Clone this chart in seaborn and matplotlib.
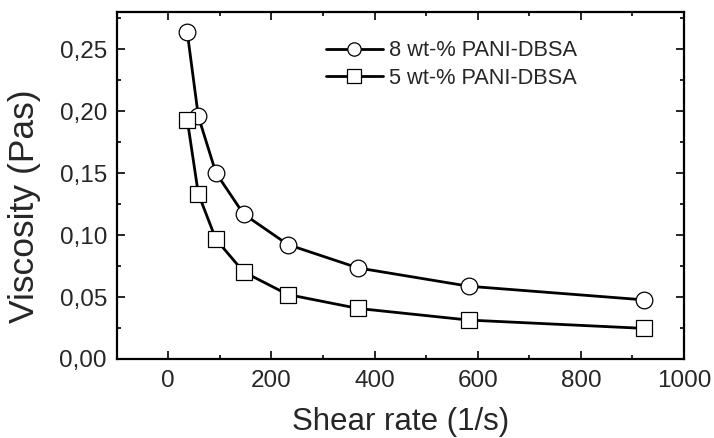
import numpy as np
import matplotlib
matplotlib.use("Agg")
import matplotlib.pyplot as plt
import seaborn as sns
from matplotlib.ticker import MultipleLocator, FuncFormatter

# ==========================
# Data
# ==========================
shear_rate = [36.8, 58.3, 92.4, 146, 232, 368, 583, 923]
visc_8wt = [0.2637, 0.1958, 0.1502, 0.1170, 0.0923, 0.0735, 0.0587, 0.0477]
visc_5wt = [0.1931, 0.1333, 0.0966, 0.0703, 0.0520, 0.0408, 0.0314, 0.0247]
labels = ["8 wt-% PANI-DBSA", "5 wt-% PANI-DBSA"]

sns.set_style("ticks")
plt.rcParams["font.family"] = ["Liberation Sans", "DejaVu Sans"]

fig = plt.figure(figsize=(7.14, 4.38), dpi=100)
ax = fig.add_axes([116.7 / 714, 1 - 359 / 438, (684 - 116.7) / 714, (359 - 12) / 438])

style = dict(color="black", linewidth=2.0, markersize=12,
             markerfacecolor="white", markeredgecolor="black", markeredgewidth=0.9)
sns.lineplot(x=shear_rate, y=visc_8wt, marker="o", label=labels[0], ax=ax, **style)
sns.lineplot(x=shear_rate, y=visc_5wt, marker="s", label=labels[1], ax=ax, **style)

ax.set_xlim(-100, 1000)
ax.set_ylim(0, 0.28)
ax.xaxis.set_major_locator(MultipleLocator(200))
ax.xaxis.set_minor_locator(MultipleLocator(100))
ax.yaxis.set_major_locator(MultipleLocator(0.05))
ax.yaxis.set_minor_locator(MultipleLocator(0.025))
ax.yaxis.set_major_formatter(FuncFormatter(lambda v, p: f"{v:.2f}".replace(".", ",")))

ax.tick_params(which="both", direction="in", top=True, right=True, width=1.2, color="black")
ax.tick_params(which="major", length=6)
ax.tick_params(which="minor", length=3)
ax.tick_params(axis="x", which="major", labelsize=17.5, pad=8)
ax.tick_params(axis="y", which="major", labelsize=17.5, pad=7)
for s in ax.spines.values():
    s.set_linewidth(1.6)
    s.set_color("black")

ax.set_xlabel("Shear rate (1/s)", fontsize=22.5, labelpad=11)
ax.set_ylabel("Viscosity (Pas)", fontsize=25.5)
ax.yaxis.set_label_coords(-0.133, 0.44)

leg = ax.legend(loc="upper left", bbox_to_anchor=(0.369, 0.918), frameon=False,
                fontsize=15.7, markerscale=0.8, handlelength=2.6, handletextpad=0.3,
                labelspacing=0.3, borderpad=0, borderaxespad=0)

plt.savefig("out.png", dpi=100)
plt.close()
